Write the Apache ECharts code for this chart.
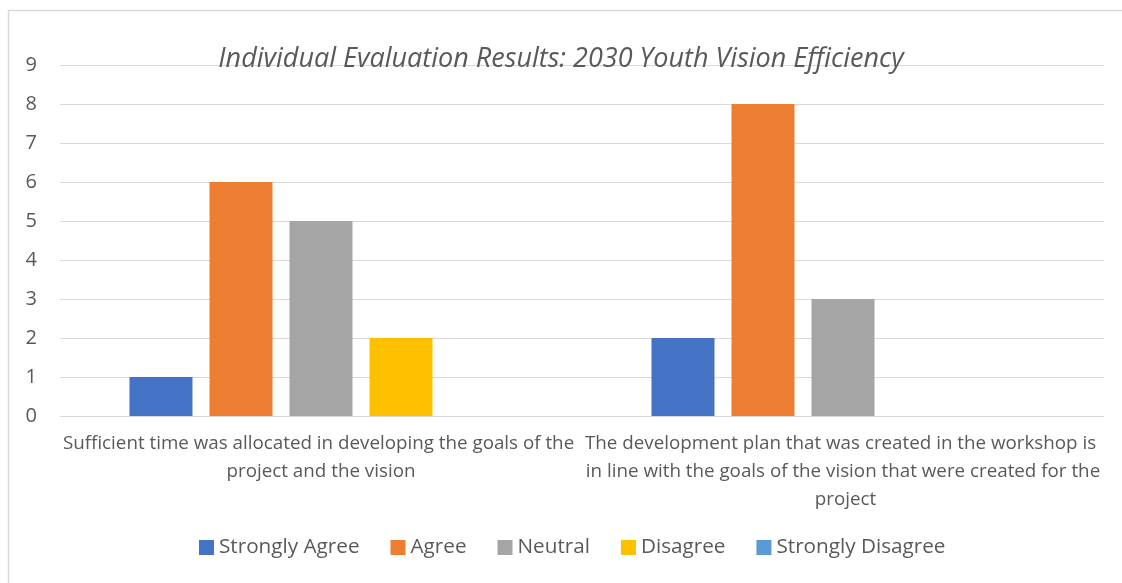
<!DOCTYPE html>
<html>
<head>
<meta charset="utf-8">
<script src="https://cdn.jsdelivr.net/npm/echarts@6/dist/echarts.min.js"></script>
<style>
  html, body { margin: 0; padding: 0; background: #fff; }
  #chart { width: 1122px; height: 583px; }
</style>
</head>
<body>
<div id="chart"></div>
<script>
var categories = [
    'Sufficient time was allocated in developing the goals of the project and the vision',
    'The development plan that was created in the workshop is in line with the goals of the vision that were created for the project'
];
var seriesNames = ['Strongly Agree', 'Agree', 'Neutral', 'Disagree', 'Strongly Disagree'];
var stronglyAgree = [1, 2];
var agree = [6, 8];
var neutral = [5, 3];
var disagree = [2, 0];
var stronglyDisagree = [0, 0];
var colors = ['#4472C4', '#ED7D31', '#A5A5A5', '#FFC000', '#5B9BD5'];

var dom = document.getElementById('chart');
var myChart = echarts.init(dom);
var values = [stronglyAgree, agree, neutral, disagree, stronglyDisagree];
var font = '"Open Sans", "Noto Sans", sans-serif';

var series = seriesNames.map(function (name, i) {
    return {
        name: name,
        type: 'bar',
        data: values[i],
        barWidth: 63,
        barGap: '27%',
        itemStyle: { color: colors[i] }
    };
});

option = {
    animation: false,
    color: colors,
    title: {
        text: 'Individual Evaluation Results: 2030 Youth Vision Efficiency',
        left: 'center',
        top: 41,
        textStyle: {
            fontFamily: font,
            fontStyle: 'italic',
            fontWeight: 'normal',
            fontSize: 27,
            color: '#595959'
        }
    },
    graphic: [{
        type: 'rect',
        shape: { x: 8.5, y: 10.5, width: 1125, height: 590 },
        style: { fill: 'none', stroke: '#D9D9D9', lineWidth: 1.5 },
        silent: true
    }],
    legend: {
        data: seriesNames,
        bottom: 20,
        left: 194,
        itemWidth: 15,
        itemHeight: 15,
        itemGap: 31,
        icon: 'rect',
        textStyle: { fontFamily: font, fontSize: 20.7, color: '#595959' }
    },
    grid: {
        left: 60,
        right: 18,
        top: 65,
        bottom: 167
    },
    xAxis: {
        type: 'category',
        data: categories,
        axisLine: { lineStyle: { color: '#D9D9D9', width: 1 } },
        axisTick: { show: false },
        axisLabel: {
            interval: 0,
            width: 518,
            overflow: 'break',
            lineHeight: 28,
            margin: 14,
            fontFamily: font,
            fontSize: 18.8,
            color: '#595959'
        }
    },
    yAxis: {
        type: 'value',
        min: 0,
        max: 9,
        interval: 1,
        axisLine: { show: false },
        axisTick: { show: false },
        splitLine: { lineStyle: { color: '#D9D9D9', width: 1 } },
        axisLabel: {
            margin: 23,
            fontFamily: font,
            fontSize: 20,
            color: '#595959'
        }
    },
    series: series
};

if (option && typeof option === 'object') {
    myChart.setOption(option, true);
}
</script>
</body>
</html>
